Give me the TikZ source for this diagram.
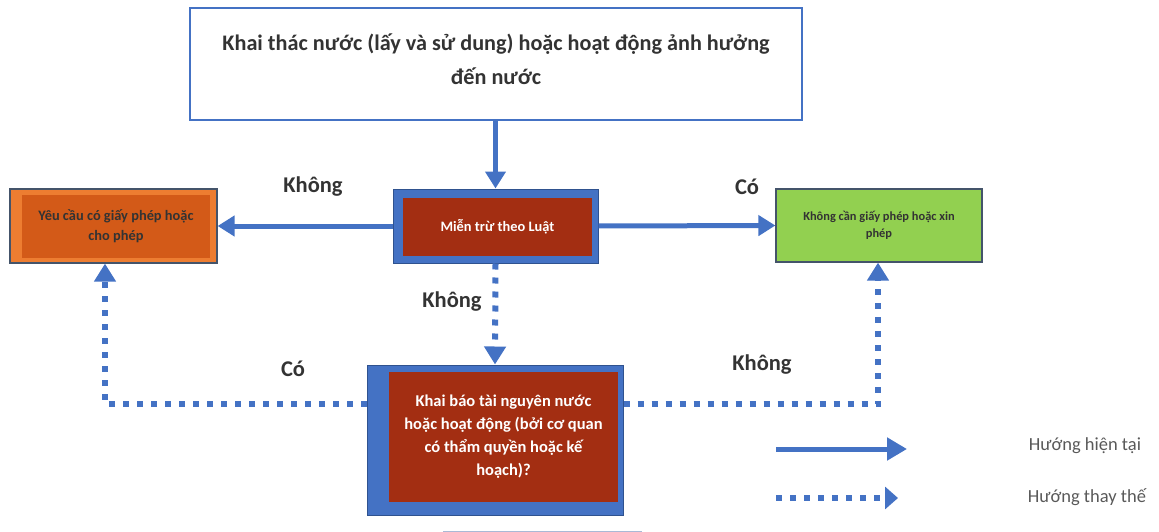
\documentclass[tikz,border=0pt]{standalone}
\usepackage{fontspec}
\setmainfont{Carlito}
\usetikzlibrary{arrows.meta}

\definecolor{flowblue}{HTML}{4472C4}
\definecolor{edgeblue}{HTML}{2F528F}
\definecolor{brick}{HTML}{A32E12}
\definecolor{orangeout}{HTML}{ED7D31}
\definecolor{orangein}{HTML}{D35A18}
\definecolor{leaf}{HTML}{92D050}
\definecolor{slate}{HTML}{44546A}
\definecolor{ink}{HTML}{333333}
\definecolor{legendink}{HTML}{595959}
\definecolor{paleline}{HTML}{A9B9D6}

\tikzset{
  box/.style={rectangle, inner sep=0pt, align=center, font=\bfseries},
  bluebox/.style={box, fill=flowblue, draw=edgeblue, line width=1pt},
  redbox/.style={box, fill=brick, text=white},
  flow/.style={line width=5pt, flowblue, -{Triangle[length=17pt,width=20pt]}},
  altflow/.style={line width=6pt, flowblue, dash pattern=on 6pt off 8pt,
    -{Triangle[length=18pt,width=21pt]}},
  lbl/.style={font=\bfseries\fontsize{22.5}{26}\selectfont, text=ink},
  legendtext/.style={text=legendink, font=\fontsize{18.5}{22}\selectfont},
}

\begin{document}
\begin{tikzpicture}[x=1pt,y=-1pt]
\useasboundingbox (0,0) rectangle (1159,532);

% top box and its title
\node[box, draw=flowblue, line width=1.5pt, fill=white,
      minimum width=612pt, minimum height=112pt] (top) at (496,64) {};
\node[box, text=ink, font=\bfseries\fontsize{22.2}{34}\selectfont] (toptext) at (496,59)
  {Khai thác nước (lấy và sử dung) hoặc hoạt động ảnh hưởng\\đến nước};

% exemption box
\node[bluebox, minimum width=205pt, minimum height=74pt] (mien) at (495.5,226) {};
\node[redbox, minimum width=189pt, minimum height=58pt,
      font=\bfseries\fontsize{14.4}{17}\selectfont] (mienin) at (497.5,227)
  {Miễn trừ theo Luật};

% permit required
\node[box, fill=orangeout, draw=slate, line width=1.2pt,
      minimum width=207pt, minimum height=74pt] (yeu) at (113.5,226) {};
\node[box, fill=orangein, text=ink, minimum width=188pt, minimum height=63pt,
      font=\bfseries\fontsize{14.4}{20}\selectfont] (yeuin) at (116,226.5)
  {Yêu cầu có giấy phép hoặc\\cho phép};

% no permit needed
\node[box, fill=leaf, draw=slate, line width=1.2pt, text=ink,
      minimum width=206pt, minimum height=73pt,
      font=\bfseries\fontsize{12.4}{16.5}\selectfont] (khong) at (879,225.5)
  {Không cần giấy phép hoặc xin\\phép};

% declaration question
\node[bluebox, minimum width=256pt, minimum height=150pt] (khai) at (495,440) {};
\node[redbox, minimum width=229pt, minimum height=130pt,
      font=\bfseries\fontsize{16.5}{23}\selectfont] (khaiin) at (503.5,437)
  {Khai báo tài nguyên nước\\hoặc hoạt động (bởi cơ quan\\có thẩm quyền hoặc kế\\hoạch)?};

% partly visible box edge at the bottom
\draw[paleline, line width=1pt] (443,531) -- (642,531);

% current paths
\draw[flow] (mien.north |- top.south) -- (mien.north);
\draw[flow] (mien.west) -- (yeu.east);
\draw[flow] (mien.east) -- (khong.west);

% alternative paths
\coordinate (bendL) at (105,404);
\coordinate (bendR) at (878,404);
\draw[altflow] (mien.south) -- (khai.north);
\draw[altflow] (khai.west |- bendL) -- (bendL) -- (yeu.south -| bendL);
\draw[altflow] (khai.east |- bendR) -- (bendR) -- (khong.south -| bendR);

% branch labels
\node[lbl] (l1) at (313,187) {Không};
\node[lbl] (l2) at (747,187) {Có};
\node[lbl] (l3) at (452,302) {Không};
\node[lbl] (l4) at (293,369) {Có};
\node[lbl] (l5) at (762,365) {Không};

% legend
\coordinate (s1) at (776,449);
\coordinate (e1) at (907,449);
\coordinate (s2) at (776,498);
\coordinate (e2) at (898,498);
\draw[line width=5pt, flowblue, -{Triangle[length=20pt,width=22pt]}] (s1) -- (e1);
\draw[line width=6pt, flowblue, dash pattern=on 6pt off 8pt,
      -{Triangle[length=13pt,width=22pt]}] (s2) -- (e2);
\node[legendtext] (t1) at (1085,446) {Hướng hiện tại};
\node[legendtext] (t2) at (1087,497) {Hướng thay thế};
\end{tikzpicture}
\end{document}
